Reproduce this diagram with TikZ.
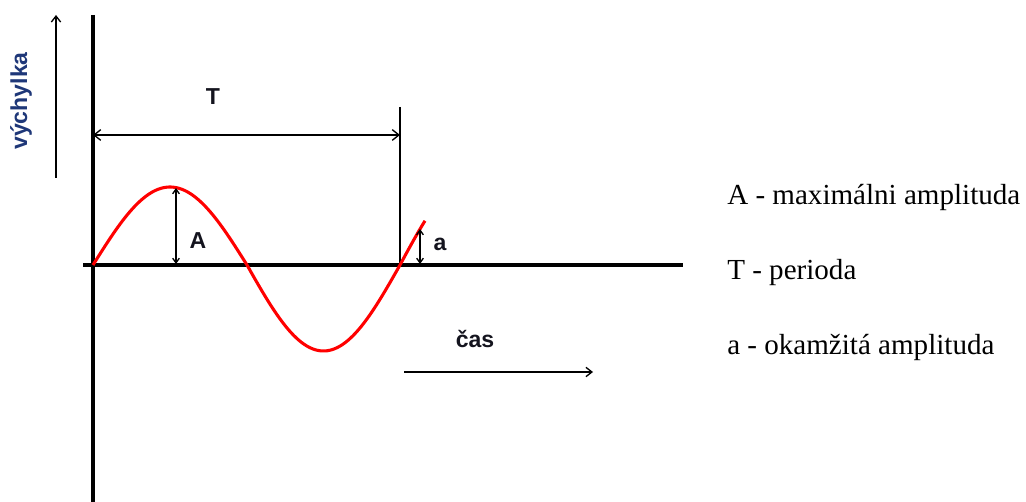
\documentclass[tikz,border=0pt]{standalone}
\usepackage{fontspec}
\setmainfont{Liberation Serif}
\setsansfont{Liberation Sans}
\usetikzlibrary{arrows.meta}
\definecolor{navy}{RGB}{30,55,120}
\definecolor{ink}{RGB}{20,20,30}
\begin{document}
\begin{tikzpicture}[x=0.75pt,y=-0.75pt,
  axis/.style={line width=3pt,black},
  thinline/.style={line width=1pt,black},
  barb/.style={-{Straight Barb[length=4.5pt,width=7pt]}},
  dbarb/.style={{Straight Barb[length=3.5pt,width=5pt]}-{Straight Barb[length=3.5pt,width=5pt]}},
  tbarb/.style={{Straight Barb[length=5pt,width=8pt]}-{Straight Barb[length=5pt,width=8pt]}},
  wave/.style={line width=2.3pt,red,line join=round},
  lbl/.style={font=\sffamily\bfseries\fontsize{17.3}{20}\selectfont,text=ink,inner sep=0pt},
  legend/.style={font=\fontsize{21.8}{25}\selectfont,text=black,anchor=base west,inner sep=0pt}]
\useasboundingbox[fill=white] (0,0) rectangle (1026,502);
% coordinates
\coordinate (ytop) at (93,15);
\coordinate (ybot) at (93,502);
\coordinate (xl) at (83,265);
\coordinate (xr) at (683,265);
\coordinate (vys) at (56,178);
\coordinate (vye) at (56,15);
\coordinate (tl) at (93,135);
\coordinate (tr) at (400,135);
\coordinate (ttop) at (400,107);
\coordinate (tbot) at (400,265);
\coordinate (atop) at (176,188);
\coordinate (abot) at (176,264);
\coordinate (sattop) at (420,229);
\coordinate (satbot) at (420,264);
\coordinate (cs) at (404,372);
\coordinate (ce) at (593,372);
% axes
\draw[axis] (ytop) -- (ybot);
\draw[axis] (xl) -- (xr);
% vychylka arrow
\draw[thinline,barb] (vys) -- (vye);
\node[lbl,text=navy,rotate=90] (vych) at (21,101) {výchylka};
% period
\draw[thinline] (ttop) -- (tbot);
\draw[thinline,tbarb] (tl) -- (tr);
\node[lbl,anchor=base] (tlab) at (213,105) {T};
% wave
\draw[wave] plot[domain=93:247,samples=60] (\x,{265-78*sin(((\x-93)/154)*180)})
  -- plot[domain=247:400,samples=60] (\x,{265+86*sin(((\x-247)/153)*180)})
  -- plot[domain=400:425,samples=12] (\x,{265-90*sin(((\x-400)/153)*180)});
% amplitude arrows
\draw[thinline,dbarb] (atop) -- (abot);
\node[lbl,anchor=base] (alab) at (198,249) {A};
\draw[thinline,dbarb] (sattop) -- (satbot);
\node[lbl,anchor=base] (salab) at (440,251) {a};
% time
\node[lbl,anchor=base] (cas) at (475,348) {čas};
\draw[thinline,barb] (cs) -- (ce);
% legend
\node[legend] (l1) at (727,205) {A - maximálni amplituda};
\node[legend] (l2) at (727,280) {T - perioda};
\node[legend] (l3) at (727,355) {a - okamžitá amplituda};
\end{tikzpicture}
\end{document}
